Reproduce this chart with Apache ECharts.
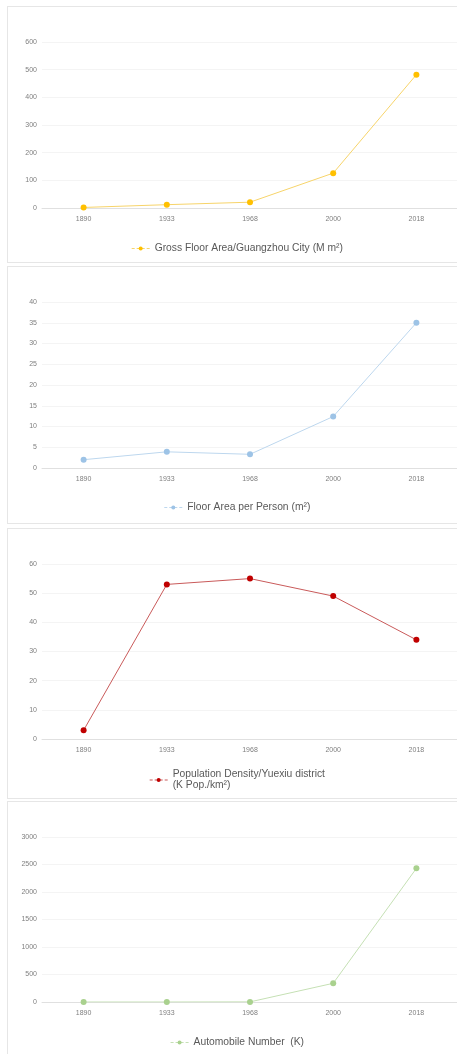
<!DOCTYPE html>
<html>
<head>
<meta charset="utf-8">
<script src="https://cdn.jsdelivr.net/npm/echarts@6/dist/echarts.min.js"></script>
<style>
html,body{margin:0;padding:0;background:#fff;width:457px;height:1054px;overflow:hidden;position:relative;}
.panel{position:absolute;left:7px;width:460px;border:1px solid #e6e6e6;box-sizing:border-box;background:#fff;}
</style>
</head>
<body>
<div class="panel" id="c1" style="top:6px;height:257px;"></div>
<div class="panel" id="c2" style="top:266px;height:258px;"></div>
<div class="panel" id="c3" style="top:528px;height:271px;"></div>
<div class="panel" id="c4" style="top:801px;height:270px;"></div>
<script>
const years = ['1890', '1933', '1968', '2000', '2018'];

const grossFloorArea = [2, 12, 21, 126, 482];
const floorAreaPerPerson = [2, 3.9, 3.3, 12.4, 35];
const populationDensity = [3, 53, 55, 49, 34];
const automobileNumber = [0, 0, 2, 340, 2430];

const yMax = [600, 40, 60, 3000];
const yInterval = [100, 5, 10, 500];

const names = [
  'Gross Floor Area/Guangzhou City (M m²)',
  'Floor Area per Person (m²)',
  'Population Density/Yuexiu district\n(K Pop./km²)',
  'Automobile Number  (K)'
];
const markerColors = ['#FFC000', '#9DC3E6', '#C00000', '#A9D18E'];
const lineColors = ['#F7D46A', '#BDD7EE', '#C95A5A', '#C5E0B4'];
const seriesData = [grossFloorArea, floorAreaPerPerson, populationDensity, automobileNumber];

const layouts = [
  {top: 35, height: 166, legendTop: 231},
  {top: 35, height: 166, legendTop: 230},
  {top: 35, height: 175, legendTop: 235},
  {top: 35, height: 165, legendTop: 230}
];

for (let i = 0; i < 4; i++) {
  const chart = echarts.init(document.getElementById('c' + (i + 1)), null, {renderer: 'canvas'});
  const L = layouts[i];
  chart.setOption({
    animation: false,
    grid: {left: 34, right: 8, top: L.top, height: L.height, containLabel: false},
    legend: {
      data: [names[i]],
      left: 'center',
      top: L.legendTop,
      itemWidth: 18,
      itemHeight: 5,
      itemGap: 5,
      textStyle: {color: '#595959', fontSize: 10.3, fontFamily: 'Liberation Sans, Arial, sans-serif', lineHeight: 11},
      lineStyle: {type: [3, 2], width: 1.2}
    },
    xAxis: {
      type: 'category',
      data: years,
      boundaryGap: true,
      axisLine: {lineStyle: {color: '#e0e0e0', width: 1}},
      axisTick: {show: false},
      axisLabel: {color: '#7f7f7f', fontSize: 7, margin: 8, fontFamily: 'Liberation Sans, Arial, sans-serif'},
      splitLine: {show: false}
    },
    yAxis: {
      type: 'value',
      min: 0,
      max: yMax[i],
      interval: yInterval[i],
      axisLine: {show: false},
      axisTick: {show: false},
      axisLabel: {color: '#7f7f7f', fontSize: 7, margin: 5, fontFamily: 'Liberation Sans, Arial, sans-serif', formatter: function (v) { return String(v); }},
      splitLine: {lineStyle: {color: '#f4f4f4', width: 1}}
    },
    series: [{
      name: names[i],
      type: 'line',
      data: seriesData[i],
      symbol: 'circle',
      symbolSize: 6,
      itemStyle: {color: markerColors[i]},
      lineStyle: {color: lineColors[i], width: 1}
    }]
  });
}
</script>
</body>
</html>
